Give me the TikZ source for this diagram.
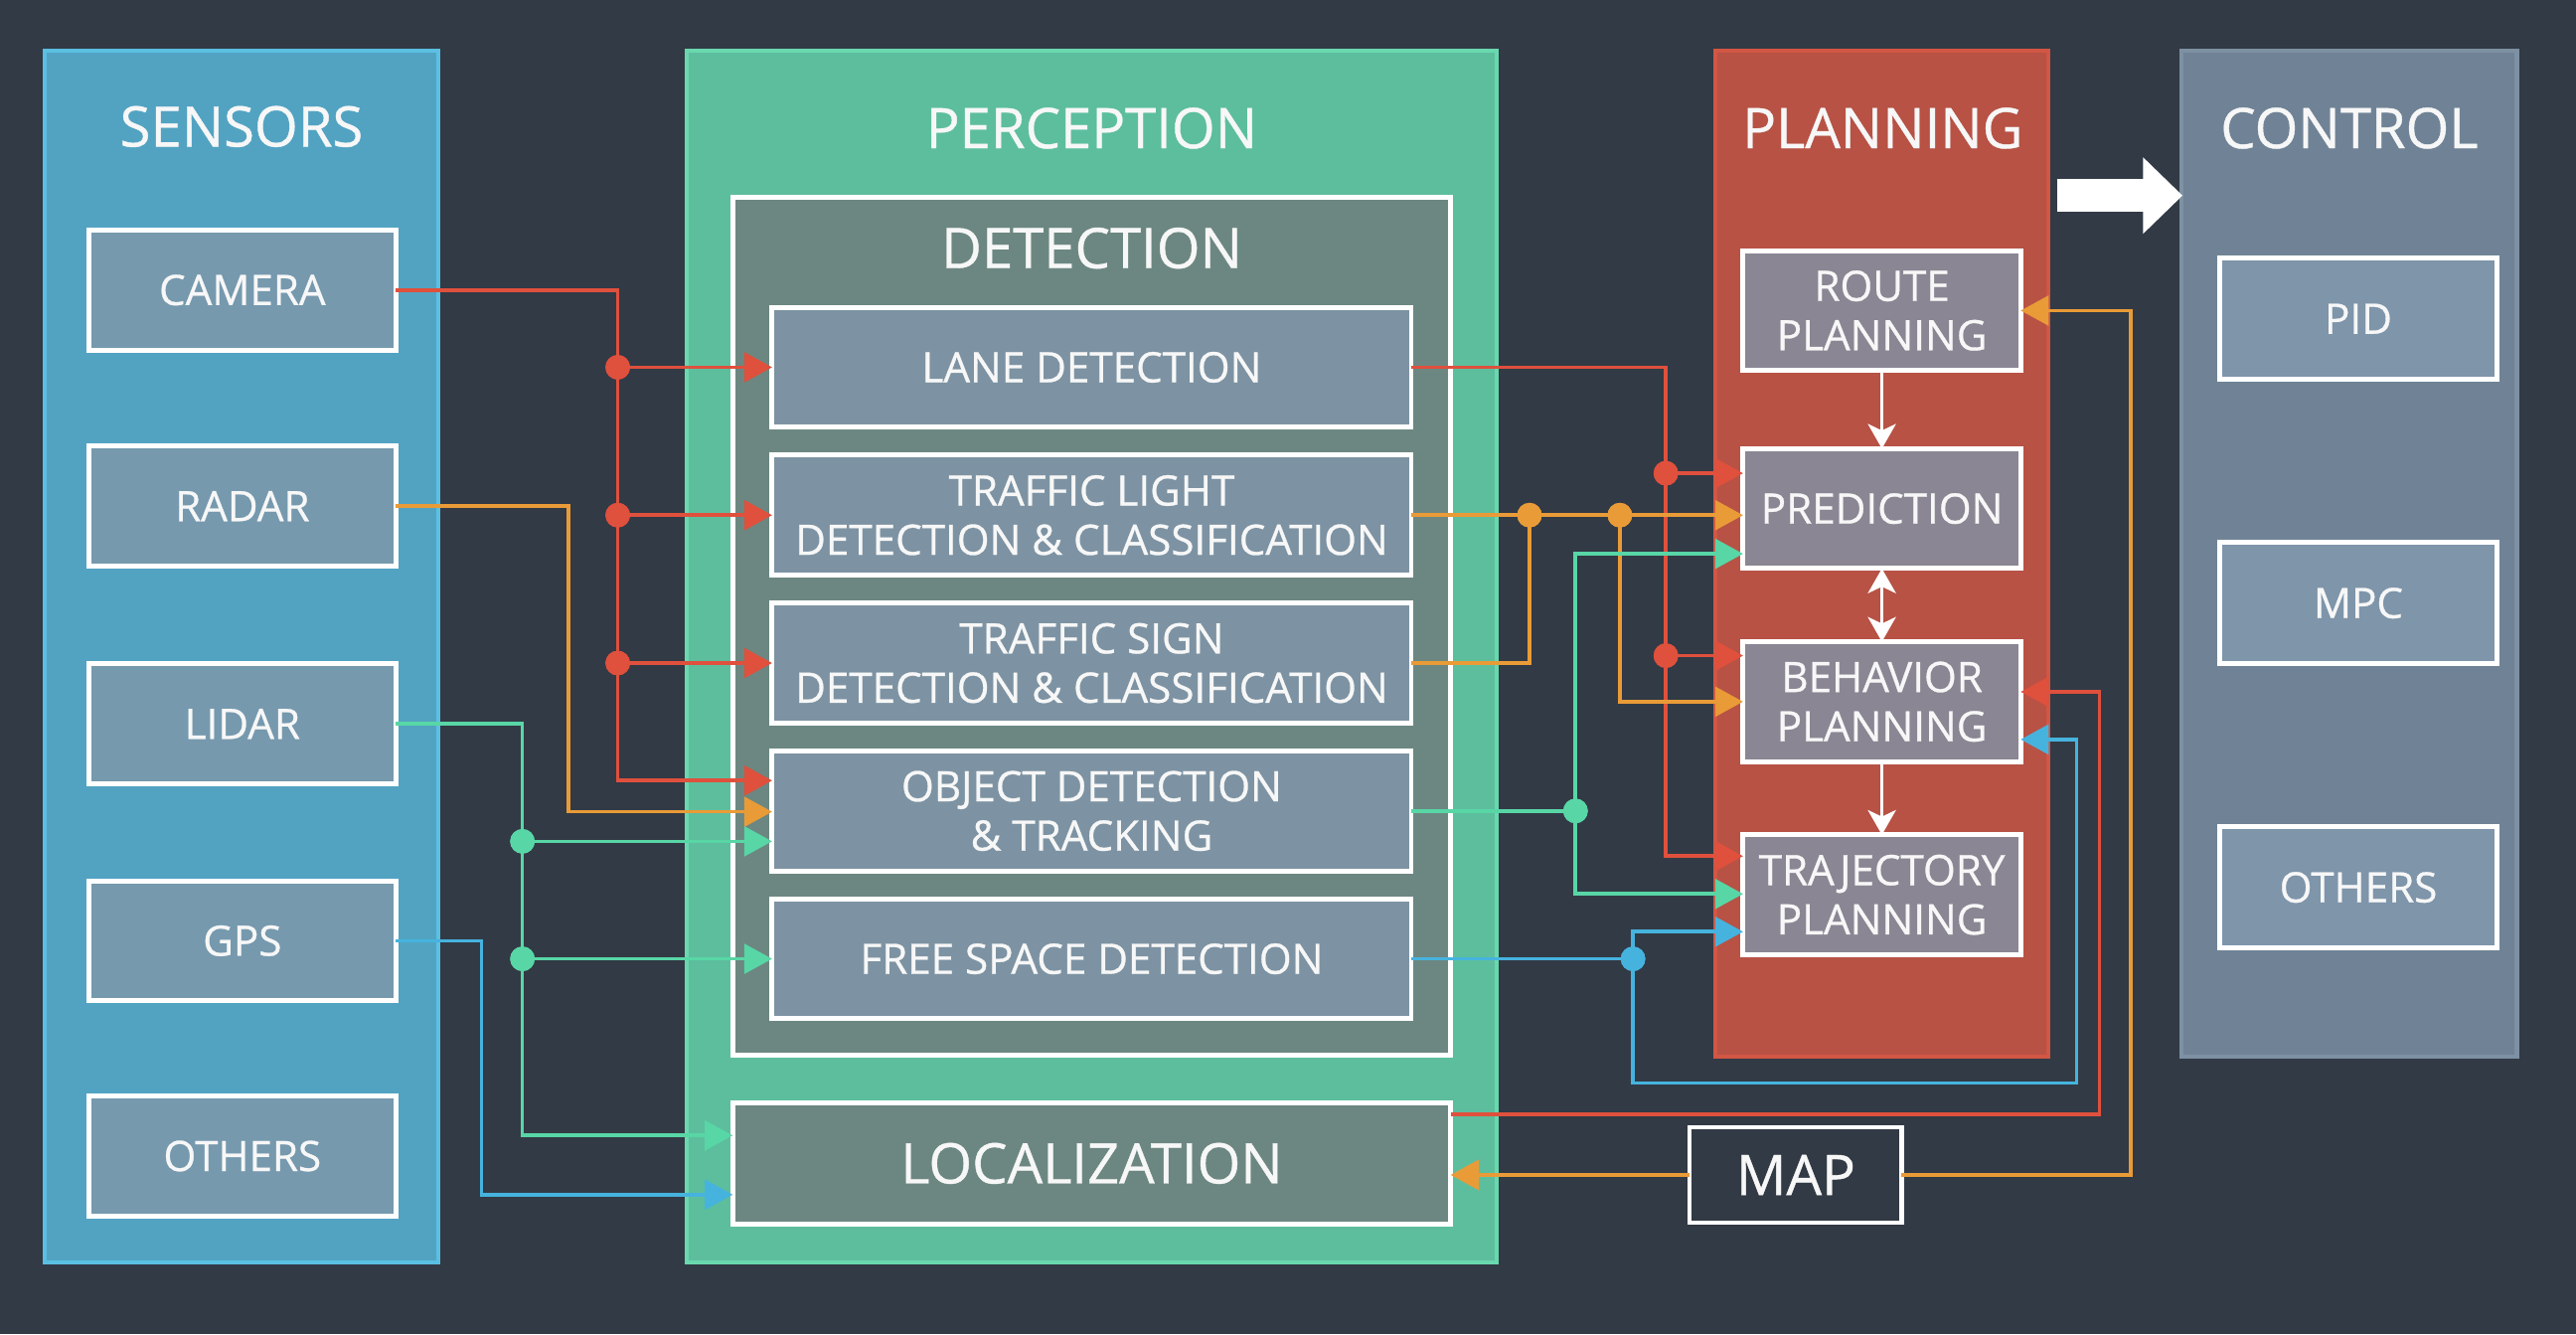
\documentclass[tikz,border=0pt]{standalone}
\usepackage{fontspec}
\setmainfont{Open Sans}[FakeBold=0.7]
\usetikzlibrary{arrows.meta}
\definecolor{bg}{HTML}{323A45}
\definecolor{sensfill}{HTML}{52A3C2}
\definecolor{sensline}{HTML}{5BBFE2}
\definecolor{percfill}{HTML}{5DBE9E}
\definecolor{percline}{HTML}{6AD8AE}
\definecolor{planfill}{HTML}{B75245}
\definecolor{planline}{HTML}{D25644}
\definecolor{ctrlfill}{HTML}{708396}
\definecolor{ctrlline}{HTML}{7D91A3}
\definecolor{sensbox}{HTML}{7699AE}
\definecolor{detfill}{HTML}{6C8781}
\definecolor{detbox}{HTML}{7D93A3}
\definecolor{planbox}{HTML}{8A8693}
\definecolor{ctrlbox}{HTML}{7E95AA}
\definecolor{cred}{HTML}{DF503D}
\definecolor{corange}{HTML}{E99B37}
\definecolor{cgreen}{HTML}{58D6A6}
\definecolor{cblue}{HTML}{46B3DE}
\definecolor{wtext}{HTML}{F7F7F7}
\begin{document}
\begin{tikzpicture}[x=1pt,y=-1pt,
  panel/.style={line width=2.5pt, inner sep=0pt, outer sep=0pt, anchor=north west},
  box/.style={draw=white, line width=3pt, text=wtext, align=center, inner sep=0pt, outer sep=0pt,
    font=\fontsize{25.5}{30}\selectfont},
  sbox/.style={box, fill=sensbox, minimum width=187pt, minimum height=73pt},
  dbox/.style={box, fill=detbox, minimum width=389pt, minimum height=73pt},
  pbox/.style={box, fill=planbox, minimum width=169pt, minimum height=73pt},
  cbox/.style={box, fill=ctrlbox, minimum width=169pt, minimum height=74pt},
  title/.style={text=wtext, font=\fontsize{34}{40}\selectfont, inner sep=0pt},
  wire/.style={line width=2.2pt},
  conn/.style={line width=2.2pt, -{Triangle[length=17pt,width=18pt]}},
  jdot/.style={circle, inner sep=0pt, minimum size=15pt},
  warrow/.style={draw=white, line width=2pt, -{Stealth[length=15pt,width=17pt,inset=4pt]}},
  wdouble/.style={draw=white, line width=2pt, {Stealth[length=15pt,width=17pt,inset=4pt]}-{Stealth[length=15pt,width=17pt,inset=4pt]}}
]
% background
\fill[bg] (0,0) rectangle (1568,812);
\useasboundingbox (0,0) rectangle (1568,812);

% panels
\node[panel, draw=sensline, fill=sensfill, minimum width=240pt, minimum height=737pt] (sensors) at (27,31) {};
\node[panel, draw=percline, fill=percfill, minimum width=493pt, minimum height=737pt] (perception) at (418,31) {};
\node[panel, draw=planline, fill=planfill, minimum width=203pt, minimum height=612pt] (planning) at (1044,31) {};
\node[panel, draw=ctrlline, fill=ctrlfill, minimum width=204pt, minimum height=612pt] (control) at (1328,31) {};

% titles
\node[title] (tsens) at (147,77) {SENSORS};
\node[title] (tperc) at (664.5,78) {PERCEPTION};
\node[title] (tplan) at (1146,78) {PLANNING};
\node[title] (tctrl) at (1430,78) {CONTROL};

% sensors
\node[sbox] (camera) at (147.5,176.5) {CAMERA};
\node[sbox] (radar) at (147.5,308) {RADAR};
\node[sbox] (lidar) at (147.5,440.5) {LIDAR};
\node[sbox] (gps) at (147.5,572.5) {GPS};
\node[sbox] (sothers) at (147.5,703.5) {OTHERS};

% detection
\node[box, fill=detfill, minimum width=437pt, minimum height=522pt] (detection) at (664.5,381) {};
\node[title] (tdet) at (664.5,151) {DETECTION};
\node[dbox] (lane) at (664.5,223.5) {LANE DETECTION};
\node[dbox] (tl) at (664.5,313.5) {TRAFFIC LIGHT\\DETECTION \& CLASSIFICATION};
\node[dbox] (ts) at (664.5,403.5) {TRAFFIC SIGN\\DETECTION \& CLASSIFICATION};
\node[dbox] (obj) at (664.5,493.5) {OBJECT DETECTION\\\& TRACKING};
\node[dbox] (free) at (664.5,583.5) {FREE SPACE DETECTION};
\node[box, fill=detfill, minimum width=437pt, minimum height=74pt, font=\fontsize{34}{40}\selectfont] (loc) at (664.5,708) {LOCALIZATION};

% planning
\node[pbox] (route) at (1145.5,189) {ROUTE\\PLANNING};
\node[pbox] (pred) at (1145.5,309.5) {PREDICTION};
\node[pbox] (beh) at (1145.5,427) {BEHAVIOR\\PLANNING};
\node[pbox] (traj) at (1145.5,544.5) {TRAJECTORY\\PLANNING};

% control
\node[cbox] (pid) at (1435.5,194) {PID};
\node[cbox] (mpc) at (1435.5,367) {MPC};
\node[cbox] (cothers) at (1435.5,540) {OTHERS};

% map
\node[box, fill=bg, line width=2.5pt, minimum width=129pt, minimum height=58pt, font=\fontsize{34}{40}\selectfont] (map) at (1093,715) {MAP};

% big arrow planning -> control
\coordinate (bigA) at (1252,119);
\coordinate (bigB) at (1328.5,119);
\draw[white, line width=20pt, -{Triangle[length=24pt,width=45pt]}] (bigA) -- (bigB);

% ---- left connectors ----
\coordinate (rbot) at (376,475);
\coordinate (obot) at (346,494);
\coordinate (gbot) at (318,691);
\coordinate (bbot) at (293,727);
\node[jdot, fill=cred] (rd1) at (376,223.5) {};
\node[jdot, fill=cred] (rd2) at (376,313.5) {};
\node[jdot, fill=cred] (rd3) at (376,403.5) {};
\node[jdot, fill=cgreen] (gd1) at (318,512) {};
\node[jdot, fill=cgreen] (gd2) at (318,583.5) {};

\draw[conn, cred] (camera.east) -| (rbot) -- (rbot -| obj.west);
\draw[conn, cred] (rd1.center) -- (lane.west);
\draw[conn, cred] (rd2.center) -- (tl.west);
\draw[conn, cred] (rd3.center) -- (ts.west);
\draw[conn, corange] (radar.east) -| (obot) -- (obot -| obj.west);
\draw[conn, cgreen] (lidar.east) -| (gbot) -- (gbot -| loc.west);
\draw[conn, cgreen] (gd1.center) -- (gd1 -| obj.west);
\draw[conn, cgreen] (gd2.center) -- (free.west);
\draw[conn, cblue] (gps.east) -| (bbot) -- (bbot -| loc.west);

% ---- right connectors ----
\coordinate (rr) at (1014,521);
\node[jdot, fill=cred] (rd4) at (1014,288) {};
\node[jdot, fill=cred] (rd5) at (1014,399) {};
\node[jdot, fill=corange] (od1) at (931,313.5) {};
\node[jdot, fill=corange] (od2) at (986,313.5) {};
\coordinate (ob) at (986,427);
\node[jdot, fill=cgreen] (gd3) at (959,493.5) {};
\coordinate (gp) at (959,337);
\coordinate (gt) at (959,544);
\node[jdot, fill=cblue] (bd) at (994,583.5) {};
\coordinate (bt) at (994,567);
\coordinate (bb) at (1264,659);
\coordinate (bbh) at (1264,450);
\coordinate (rl) at (1278,678);
\coordinate (rlh) at (1278,421);
\coordinate (om) at (1297,715);

\draw[conn, cred] (lane.east) -| (rr) -- (rr -| traj.west);
\draw[conn, cred] (rd4.center) -- (rd4 -| pred.west);
\draw[conn, cred] (rd5.center) -- (rd5 -| beh.west);

\draw[conn, corange] (tl.east) -- (tl.east -| pred.west);
\draw[wire, corange] (ts.east) -| (od1.center);
\draw[conn, corange] (od2.center) |- (ob -| beh.west);

\draw[wire, cgreen] (obj.east) -- (gd3.center);
\draw[conn, cgreen] (gd3.center) |- (gp -| pred.west);
\draw[conn, cgreen] (gd3.center) |- (gt -| traj.west);

\draw[wire, cblue] (free.east) -- (bd.center);
\draw[conn, cblue] (bd.center) |- (bt -| traj.west);
\draw[conn, cblue] (bd.center) |- (bb) -- (bbh) -- (bbh -| beh.east);

\draw[conn, cred] (rl -| loc.east) -- (rl) -- (rlh) -- (rlh -| beh.east);

\draw[conn, corange] (map.west) -- (map.west -| loc.east);
\draw[conn, corange] (map.east) -- (om) |- (route.east);

% redraw junction dots on top
\foreach \d/\c in {rd1/cred,rd2/cred,rd3/cred,gd1/cgreen,gd2/cgreen,rd4/cred,rd5/cred,od1/corange,od2/corange,gd3/cgreen,bd/cblue}
  \fill[\c] (\d.center) circle (7.5pt);

% white arrows in planning
\draw[warrow] (route.south) -- (pred.north);
\draw[wdouble] (pred.south) -- (beh.north);
\draw[warrow] (beh.south) -- (traj.north);
\end{tikzpicture}
\end{document}
